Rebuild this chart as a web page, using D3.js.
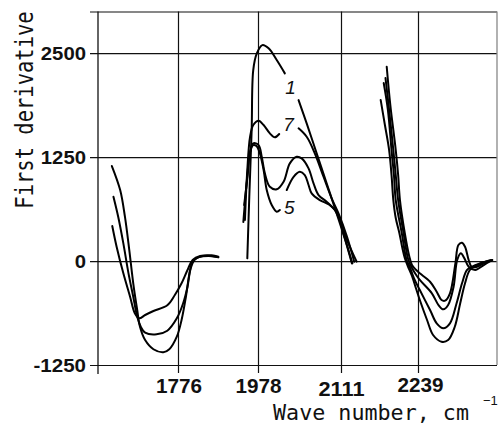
<!DOCTYPE html>
<html><head><meta charset="utf-8">
<script src="https://cdn.jsdelivr.net/npm/d3@7/dist/d3.min.js"></script>
<style>body{margin:0;background:#fff}svg{display:block}</style>
</head><body>
<svg id="chart" width="501" height="426"></svg>
<script>
// ---- data (wave number, first derivative) ----
const xTickValues = [1776, 1978, 2111, 2239];
const xTickLabels = ["1776", "1978", "2111", "2239"];
const yTickValues = [-1250, 0, 1250, 2500, 3000];
const yTickLabels = ["-1250", "0", "1250", "2500", ""];
const seriesNames = ["1", "7", "5", ""];

const curve1 = [
  [1609,1142],[1630,853],[1642,533],[1653,132],[1663,-268],[1673,-589],[1680,-790],[1693,-950],[1714,-1061],[1739,-1097],[1754,-1061],[1773,-910],[1785,-709],[1796,-429],[1805,-148],[1813,-8],[1827,44],[1853,60],[1878,44],
  null,
  [1951,32],[1956,773],[1962,1575],[1966,2296],[1975,2496],[1985,2596],[1995,2557],[2008,2416],[2021,2256],
  null,
  [2043,1935],[2056,1655],[2072,1295],[2088,934],[2104,573],[2118,252],[2129,-28],
  null,
  [2177,1935],[2184,1635],[2191,1334],[2195,1034],[2198,733],[2202,517],[2208,337],[2213,156],[2217,36],[2222,-60],[2229,-180],[2236,-337],[2242,-469],[2254,-709],[2264,-889],[2278,-970],[2289,-950],[2300,-790],[2309,-508],[2317,-268],[2325,-108],[2337,-48],[2349,-12],[2362,12]
];
const curve7 = [
  [1613,773],[1625,532],[1638,212],[1651,-148],[1663,-429],[1673,-670],[1682,-790],[1693,-862],[1722,-881],[1749,-838],[1773,-689],[1789,-508],[1800,-309],[1808,-88],[1819,20],[1840,60],[1874,52],
  null,
  [1945,493],[1951,1094],[1958,1494],[1966,1635],[1979,1686],[1987,1635],[1997,1535],[2005,1487],[2012,1527],
  null,
  [2043,1595],[2056,1494],[2069,1295],[2083,1013],[2096,754],[2107,573],[2121,292],[2133,-8],
  null,
  [2182,2140],[2189,1815],[2195,1334],[2199,1034],[2202,733],[2212,337],[2220,12],[2226,-84],[2232,-204],[2242,-349],[2259,-589],[2270,-749],[2281,-809],[2292,-749],[2303,-508],[2312,-268],[2320,-108],[2328,-69],[2342,-28],[2362,12]
];
const curve5 = [
  [1610,421],[1621,172],[1638,-148],[1655,-429],[1667,-629],[1678,-689],[1693,-649],[1714,-601],[1749,-532],[1768,-409],[1785,-268],[1800,-108],[1813,12],[1832,60],[1861,69],[1878,52],
  null,
  [1941,469],[1950,974],[1958,1310],[1966,1394],[1974,1382],[1981,1295],[1987,1094],[1992,853],[2000,673],[2008,593],[2013,613],
  null,
  [2024,853],[2035,1013],[2045,1073],[2053,1034],[2059,914],[2064,814],[2077,733],[2093,673],[2104,593],[2115,333],[2130,-28],
  null,
  [2187,2336],[2193,1875],[2202,1334],[2206,1034],[2209,733],[2217,337],[2224,72],[2229,-48],[2236,-108],[2242,-148],[2259,-249],[2270,-369],[2278,-469],[2284,-477],[2292,-388],[2301,-28],[2306,192],[2312,220],[2317,172],[2323,12],[2328,-69],[2337,-69],[2349,-24],[2362,12]
];
const curveX = [
  [1943,673],[1952,1034],[1958,1310],[1966,1415],[1979,1394],[1984,1254],[1989,1054],[1997,893],[2008,862],[2019,953],[2029,1174],[2040,1254],[2048,1234],[2059,1114],[2067,934],[2075,793],[2088,713],[2101,613],[2109,493],[2121,252],[2137,-8],
  null,
  [2185,2200],[2191,1815],[2198,1334],[2202,1034],[2206,733],[2215,337],[2223,12],[2229,-84],[2236,-168],[2242,-228],[2262,-388],[2273,-529],[2281,-581],[2289,-529],[2298,-309],[2304,12],[2310,93],[2316,32],[2323,-69],[2334,-108],[2348,-48],[2362,12]
];
// curve label anchors (wave number, value)
const labelPoints = [[2030,2090],[2027,1645],[2028,650]];

// ---- scales (broken, piecewise axis) ----
const svg = d3.select("#chart");
const x = d3.scaleLinear()
  .domain([1574, 1776, 1978, 2111, 2239, 2370])
  .range([98, 178, 258, 341, 418, 497]);
const y = d3.scaleLinear().domain([-1250, 3000]).range([365, 11.5]);

const ink = "#111";

// y axis with grid
const gy = svg.append("g").attr("transform", "translate(98,0)")
  .call(d3.axisLeft(y).tickValues(yTickValues)
    .tickFormat((d, i) => yTickLabels[i])
    .tickSizeInner(-399).tickSizeOuter(0).tickPadding(12));
gy.select(".domain").remove();
gy.selectAll(".tick line").attr("x1", -8).attr("stroke", ink).attr("stroke-width", 1.2);
gy.selectAll(".tick text")
  .attr("font-family", "'Liberation Sans', Arial, sans-serif")
  .attr("font-weight", "bold").attr("font-size", 19)
  .attr("fill", ink).attr("dy", "0.36em")
  .attr("textLength", function(d, i){ const s = yTickLabels[i]; return s.length ? s.length * 11.3 - (s[0]==="-" ? 4 : 0) : null; })
  .attr("lengthAdjust", "spacingAndGlyphs");

// x axis with grid
const gx = svg.append("g").attr("transform", "translate(0,365)")
  .call(d3.axisBottom(x).tickValues(xTickValues)
    .tickFormat((d, i) => xTickLabels[i])
    .tickSizeInner(8).tickSizeOuter(0).tickPadding(6));
gx.select(".domain").remove();
gx.selectAll(".tick line").attr("y1", y(3000) - 365).attr("stroke", ink).attr("stroke-width", 1.2);
const xLabelShift = [[0.5, 0], [0, 0.5], [0, 3], [2, -1]];
gx.selectAll(".tick text")
  .attr("font-family", "'Liberation Sans', Arial, sans-serif")
  .attr("font-weight", "bold").attr("font-size", 20)
  .attr("fill", ink)
  .attr("dy", null)
  .attr("y", (d, i) => 27.5 + xLabelShift[i][1])
  .attr("x", (d, i) => xLabelShift[i][0])
  .attr("textLength", 46).attr("lengthAdjust", "spacingAndGlyphs");

// axis line (left) and right frame
svg.append("line").attr("x1", 98).attr("x2", 98).attr("y1", y(3000)).attr("y2", 374)
  .attr("stroke", ink).attr("stroke-width", 1.3);
svg.append("line").attr("x1", x(2370)).attr("x2", x(2370)).attr("y1", y(3000)).attr("y2", y(-1250))
  .attr("stroke", "#888").attr("stroke-width", 1.3);

// curves
const line = d3.line()
  .defined(d => d !== null)
  .x(d => x(d[0])).y(d => y(d[1]))
  .curve(d3.curveCatmullRom.alpha(0.5));
[curve1, curve7, curve5, curveX].forEach(c => {
  svg.append("path").attr("d", line(c))
    .attr("fill", "none").attr("stroke", "#000")
    .attr("stroke-width", 2).attr("stroke-linejoin", "round").attr("stroke-linecap", "round");
});

// curve labels
labelPoints.forEach((p, i) => {
  svg.append("text").attr("x", x(p[0])).attr("y", y(p[1]))
    .attr("text-anchor", "middle").attr("dy", "0.36em")
    .attr("font-family", "'Liberation Sans', Arial, sans-serif")
    .attr("font-style", "italic").attr("font-size", 19).attr("fill", ink)
    .text(seriesNames[i]);
});

// axis titles
svg.append("text")
  .attr("transform", "translate(33,110) rotate(-90) scale(1,1.2)")
  .attr("text-anchor", "middle")
  .attr("font-family", "'DejaVu Sans Mono', monospace").attr("font-size", 20.5)
  .attr("fill", ink)
  .text("First derivative");
svg.append("text")
  .attr("x", 273).attr("y", 420)
  .attr("font-family", "'DejaVu Sans Mono', monospace").attr("font-size", 21)
  .attr("fill", ink)
  .attr("textLength", 196).attr("lengthAdjust", "spacingAndGlyphs")
  .text("Wave number, cm");
svg.append("text")
  .attr("x", 483).attr("y", 405)
  .attr("font-family", "'Liberation Sans', Arial, sans-serif").attr("font-size", 13)
  .attr("fill", ink)
  .text("\u22121");
</script>
</body></html>
